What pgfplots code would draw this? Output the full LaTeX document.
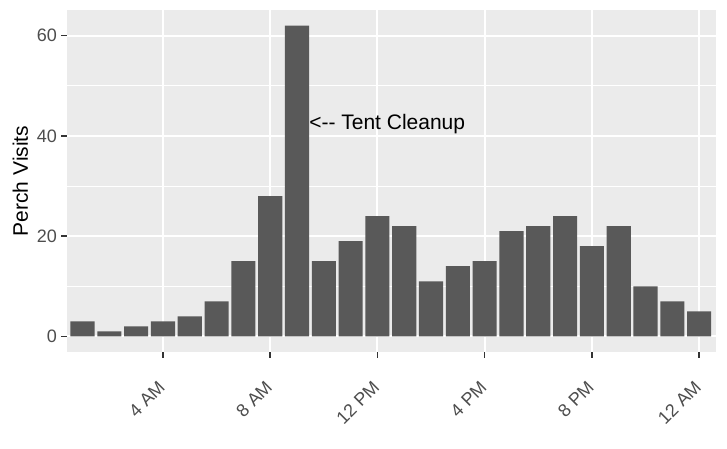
\documentclass[border=0pt]{standalone}
\usepackage{pgfplots}
\pgfplotsset{compat=1.18}
\usepackage{fontspec}
\setmainfont{Liberation Sans}
\definecolor{panel}{HTML}{EBEBEB}
\definecolor{barcol}{HTML}{595959}
\definecolor{tickcol}{HTML}{333333}
\definecolor{labcol}{HTML}{4D4D4D}
\begin{document}
\begin{tikzpicture}
\begin{axis}[
  set layers,
  at={(67bp,97bp)}, anchor=south west,
  scale only axis,
  width=649bp, height=342bp,
  xmin=0.42, xmax=24.63,
  ymin=-3.1, ymax=65.1,
  axis background/.style={fill=panel},
  axis line style={draw=none},
  xtick={4,8,12,16,20,24},
  xticklabels={4 AM,8 AM,12 PM,4 PM,8 PM,12 AM},
  ytick={0,20,40,60},
  minor ytick={10,30,50},
  xmajorgrids, ymajorgrids, yminorgrids,
  major grid style={white, line width=2bp},
  minor grid style={white, line width=1bp},
  tick pos=left, tick align=outside,
  major tick length=6bp, minor tick length=0pt,
  tick style={tickcol, line width=1.6bp},
  /pgf/number format/assume math mode=true,
  ticklabel style={font=\fontsize{18bp}{21bp}\selectfont, text=labcol},
  yticklabel style={inner sep=0pt, xshift=-4bp},
  xticklabel style={rotate=45, anchor=north east, inner sep=0pt, yshift=-11.3bp, xshift=-19.4bp},
  ylabel={Perch Visits},
  ylabel style={font=\fontsize{21bp}{24bp}\selectfont, at={(axis description cs:-0.0717,0.5)}, anchor=center},
]
\addplot[ybar, bar width=0.9, draw=none, fill=barcol] coordinates {
(1,3) (2,1) (3,2) (4,3) (5,4) (6,7) (7,15) (8,28) (9,62) (10,15) (11,19) (12,24)
(13,22) (14,11) (15,14) (16,15) (17,21) (18,22) (19,24) (20,18) (21,22) (22,10) (23,7) (24,5)
};
\node[anchor=west, inner sep=0pt, font=\fontsize{21bp}{24bp}\selectfont] at (axis cs:9.45,42.3) {<-{}- Tent Cleanup};
\end{axis}
\path (0,0) rectangle (727bp,449bp);
\end{tikzpicture}
\end{document}
